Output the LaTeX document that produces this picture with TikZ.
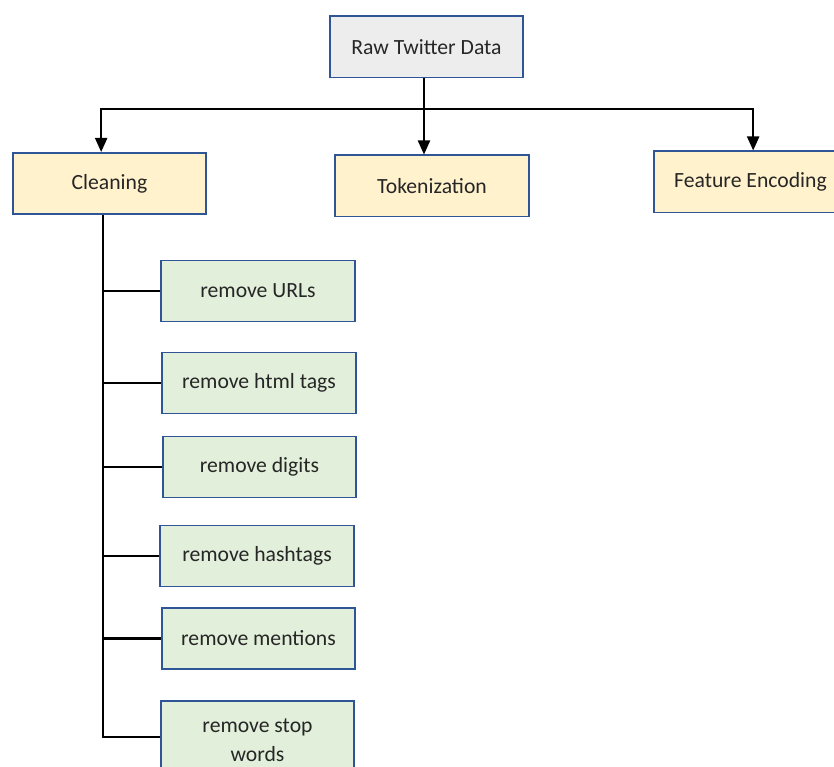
\documentclass[tikz,border=0pt]{standalone}
\usepackage{fontspec}
\setmainfont{Carlito}
\usetikzlibrary{positioning,arrows.meta}
\definecolor{boxline}{HTML}{2F5597}
\definecolor{rawfill}{HTML}{EDEDED}
\definecolor{stagefill}{HTML}{FFF2CC}
\definecolor{stepfill}{HTML}{E2EFDA}
\tikzset{
box/.style={draw=boxline, line width=1.7pt, minimum width=5.8cm, minimum height=1.83cm,
  text=black!85, font=\fontsize{18.5}{24}\selectfont, align=center, inner sep=2pt},
rawbox/.style={box, fill=rawfill},
stagebox/.style={box, fill=stagefill},
stepbox/.style={box, fill=stepfill},
link/.style={line width=1.8pt},
>={Triangle[length=0.42cm, width=0.36cm]},
}

\begin{document}
\begin{tikzpicture}[x=0.03cm, y=-0.03cm]
        \clip (0,0) rectangle (834,767);
        % top level
        \node[rawbox] (raw) at (426.5,47) {Raw Twitter Data};
        \node[stagebox] (clean) at (109.5,183.5) {Cleaning};
        \node[stagebox] (tok) at (432,186) {Tokenization};
        \node[stagebox] (feat) at (750.5,182) {Feature Encoding};
        % cleaning steps
        \node[stepbox] (rm_url) at (258,291) {remove URLs};
        \node[stepbox] (rm_html) at (259,383) {remove html tags};
        \node[stepbox] (rm_digit) at (259.5,467) {remove digits};
        \node[stepbox] (rm_hash) at (257,556) {remove hashtags};
        \node[stepbox] (rm_ment) at (258.5,638.5) {remove mentions};
        \node[stepbox, minimum height=2.34cm, font=\fontsize{18.5}{25}\selectfont]
          (rm_stop) at (257.5,740) {remove stop\\words};
        \coordinate (hub) at (424,109);
        \coordinate (trunk) at (103,215);
        \draw[link,->] (hub |- raw.south) -- (hub |- tok.north);
        \draw[link,->] (hub) -| ([xshift=-0.25cm]clean.north);
        \draw[link,->] (hub) -| ([xshift=0.08cm]feat.north);
        \draw[link] (trunk) |- ([yshift=0.1cm]rm_stop.west);
        \foreach \s in {rm_url,rm_html,rm_digit,rm_hash,rm_ment}
          \draw[link] (trunk |- \s.west) -- (\s.west);
\end{tikzpicture}
\end{document}
